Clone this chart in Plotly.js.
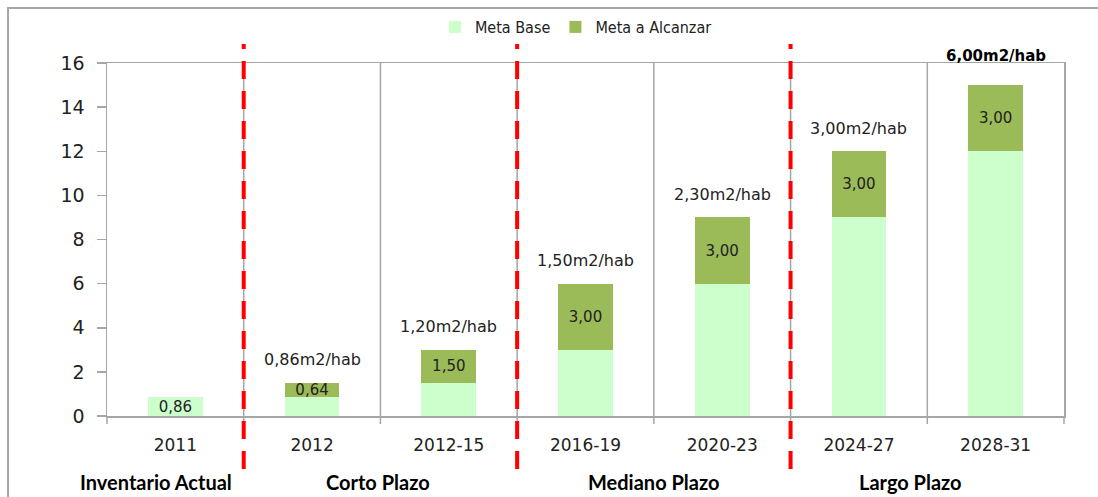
<!DOCTYPE html>
<html>
<head>
<meta charset="utf-8">
<script src="https://cdn.plot.ly/plotly-3.0.1.min.js"></script>
<style>html,body{margin:0;padding:0;background:#fff;}#chart{width:1098px;height:497px;}</style>
</head>
<body>
<div id="chart"></div>
<script>
// ---- data ----
const categories = ["2011", "2012", "2012-15", "2016-19", "2020-23", "2024-27", "2028-31"];
const metaBase = [0.86, 0.86, 1.5, 3, 6, 9, 12];
const metaAlcanzar = [null, 0.64, 1.5, 3, 3, 3, 3];
const m2PorHab = [null, 0.86, 1.2, 1.5, 2.3, 3.0, 6.0];
const plazos = ["Inventario Actual", "Corto Plazo", "Mediano Plazo", "Largo Plazo"];
const plazoCenters = [-0.14, 1.48, 3.5, 5.38];
const plazoBreaks = [0.5, 2.5, 4.5];
const yTicks = [0, 2, 4, 6, 8, 10, 12, 14, 16];

const fmt = v => v.toFixed(2).replace('.', ',');
const numFont = "DejaVu Sans, Verdana, sans-serif";
const idx = categories.map((c, i) => i);

const traces = [
  {
    type: 'bar', name: 'Meta Base', x: idx, y: metaBase,
    marker: {color: '#CCFFCC'}, width: 0.4,
    text: metaBase.map((v, i) => metaAlcanzar[i] == null ? fmt(v) : ''),
    textposition: 'inside', insidetextanchor: 'middle', constraintext: 'none', textangle: 0,
    textfont: {family: numFont, size: 15, color: '#222'},
    hoverinfo: 'skip'
  },
  {
    type: 'bar', name: 'Meta a Alcanzar', x: idx, y: metaAlcanzar,
    marker: {color: '#9BBB59'}, width: 0.4,
    text: metaAlcanzar.map(v => v == null ? '' : fmt(v)),
    textposition: 'inside', insidetextanchor: 'middle', constraintext: 'none', textangle: 0,
    textfont: {family: numFont, size: 15, color: '#222'},
    hoverinfo: 'skip'
  }
];

const annotations = [];
m2PorHab.forEach((v, i) => {
  if (v == null) return;
  const total = metaBase[i] + (metaAlcanzar[i] || 0);
  const last = i === m2PorHab.length - 1;
  if (last) {
    annotations.push({x: i, y: 16, xref: 'x', yref: 'y', yanchor: 'middle', yshift: 7,
      text: '<b>' + fmt(v) + 'm2/hab</b>', showarrow: false,
      font: {family: numFont, size: 15, color: '#000'}});
  } else {
    annotations.push({x: i, y: total, xref: 'x', yref: 'y', yanchor: 'middle', yshift: 23,
      text: fmt(v) + 'm2/hab', showarrow: false,
      font: {family: numFont, size: 16, color: '#222'}});
  }
});
plazos.forEach((p, i) => {
  annotations.push({x: plazoCenters[i], y: -0.187, xref: 'x', yref: 'paper', yanchor: 'middle',
    text: '<b>' + p + '</b>', showarrow: false,
    font: {family: 'Lato, Open Sans, sans-serif', size: 20, color: '#000'}});
});

const shapes = [
  {type: 'rect', xref: 'paper', yref: 'paper', x0: -0.1034, x1: 1.2, y0: -0.4, y1: 1.156,
   line: {color: '#a6a6a6', width: 2}, fillcolor: 'rgba(0,0,0,0)', layer: 'below'}
];
// category separators (gray) at every boundary
for (let b = 0.5; b < categories.length - 0.5; b += 1) {
  shapes.push({type: 'line', xref: 'x', yref: 'paper', x0: b, x1: b, y0: -0.023, y1: 1,
    line: {color: '#a6a6a6', width: 1.5}, layer: 'below'});
}
shapes.push({type: 'line', xref: 'paper', yref: 'paper', x0: 1, x1: 1, y0: -0.023, y1: 0,
  line: {color: '#a6a6a6', width: 1.5}});
shapes.push({type: 'line', xref: 'paper', yref: 'paper', x0: 0, x1: 0, y0: -0.023, y1: 0,
  line: {color: '#a6a6a6', width: 1.5}});
plazoBreaks.forEach(b => {
  shapes.push({type: 'line', xref: 'x', yref: 'paper', x0: b, x1: b, y0: -0.15, y1: 1.054,
    line: {color: '#FF0000', width: 4, dash: '18px,12px'}});
});

const layout = {
  width: 1098, height: 497,
  margin: {l: 107, r: 34, t: 63, b: 81, autoexpand: false},
  paper_bgcolor: '#fff', plot_bgcolor: '#fff',
  barmode: 'stack',
  showlegend: true,
  legend: {orientation: 'h', traceorder: 'normal', x: 0.49, xanchor: 'center', y: 1.102, yanchor: 'middle',
    font: {family: 'Liberation Sans Narrow, DejaVu Sans Condensed, sans-serif', size: 16, color: '#222'},
    itemwidth: 30, bgcolor: 'rgba(0,0,0,0)'},
  xaxis: {
    type: 'linear', range: [-0.5, categories.length - 0.5], autorange: false,
    tickvals: idx, ticktext: categories, showgrid: false, zeroline: false,
    ticks: '', showline: true, mirror: true, linecolor: '#a6a6a6', linewidth: 1.5,
    tickfont: {family: numFont, size: 17, color: '#222'}, ticklabelstandoff: 13,
    fixedrange: true
  },
  yaxis: {
    range: [0, 16], autorange: false, tickvals: yTicks, ticktext: yTicks.map(String), showgrid: false, zeroline: false,
    ticks: 'outside', ticklen: 9, tickcolor: '#a6a6a6', tickwidth: 1.5,
    showline: true, mirror: true, linecolor: '#a6a6a6', linewidth: 1.5,
    tickfont: {family: numFont, size: 19, color: '#222'}, ticklabelstandoff: 8,
    fixedrange: true
  },
  annotations: annotations,
  shapes: shapes
};

Plotly.newPlot('chart', traces, layout, {displayModeBar: false, staticPlot: true});
</script>
</body>
</html>
